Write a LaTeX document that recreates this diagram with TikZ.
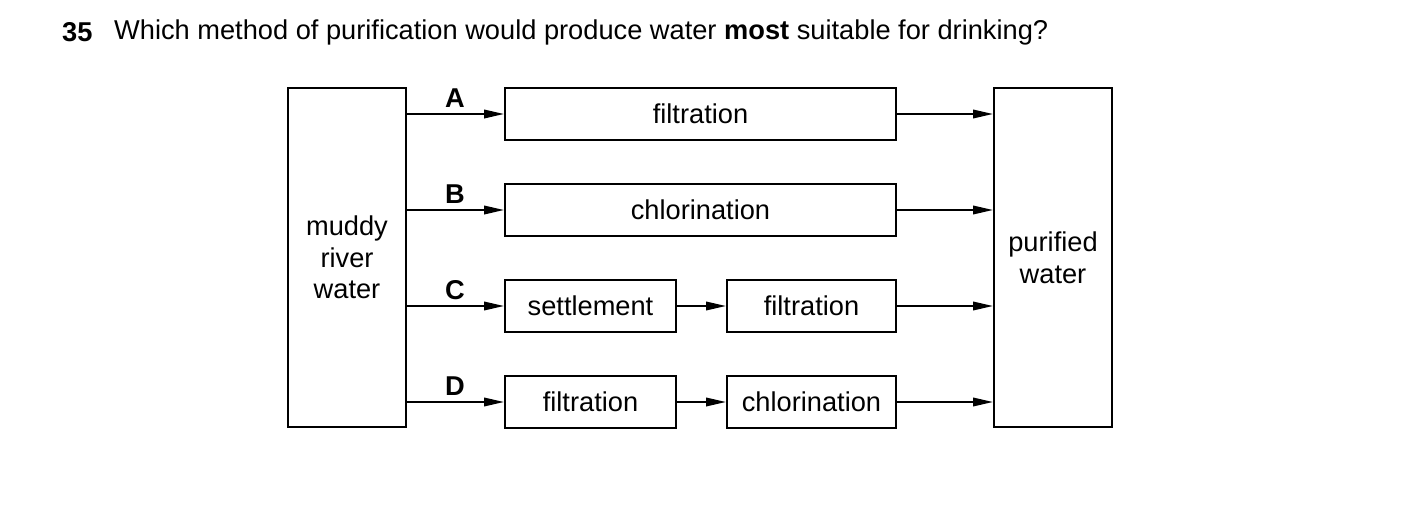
\documentclass[tikz,border=0pt]{standalone}
\usepackage{fontspec}
\setmainfont{Liberation Sans}
\usetikzlibrary{arrows.meta}
\begin{document}
\begin{tikzpicture}[x=0.02cm,y=-0.02cm,
  every node/.style={font=\fontsize{15.5}{19}\selectfont},
  box/.style={draw,line width=1.1pt,minimum height=1.04cm,inner sep=0pt},
  arr/.style={line width=1.1pt,-{Triangle[length=0.4cm,width=0.17cm]}},
  lab/.style={font=\fontsize{15.5}{19}\selectfont\bfseries}]
\useasboundingbox (0,0) rectangle (1403,521);
\node[anchor=west] (num) at (56,32) {\textbf{35}};
\node[anchor=west] (q) at (108,32) {Which method of purification would produce water \textbf{most} suitable for drinking?};
\node[box,minimum width=2.36cm,minimum height=6.78cm,align=center] (L) at (347,257.5) {muddy\\[-1pt]river\\[-1pt]water};
\node[box,minimum width=2.36cm,minimum height=6.78cm,align=center] (R) at (1053,257.5) {purified\\[-1pt]water};
\node[box,minimum width=7.82cm] (a) at (700.5,114) {filtration};
\node[box,minimum width=7.82cm] (b) at (700.5,210) {chlorination};
\node[box,minimum width=3.42cm] (c1) at (590.5,306) {settlement};
\node[box,minimum width=3.38cm] (c2) at (811.5,306) {filtration};
\node[box,minimum width=3.42cm] (d1) at (590.5,402) {filtration};
\node[box,minimum width=3.38cm] (d2) at (811.5,402) {chlorination};
\node[lab] (A) at (455,98) {A};
\node[lab] (B) at (455,194) {B};
\node[lab] (C) at (455,290) {C};
\node[lab] (D) at (455,386) {D};
\draw[arr] (L.east |- a.west) -- (a.west);
\draw[arr] (L.east |- b.west) -- (b.west);
\draw[arr] (L.east |- c1.west) -- (c1.west);
\draw[arr] (L.east |- d1.west) -- (d1.west);
\draw[arr] (a.east) -- (R.west |- a.east);
\draw[arr] (b.east) -- (R.west |- b.east);
\draw[arr] (c2.east) -- (R.west |- c2.east);
\draw[arr] (d2.east) -- (R.west |- d2.east);
\draw[arr] (c1.east) -- (c2.west);
\draw[arr] (d1.east) -- (d2.west);
\end{tikzpicture}
\end{document}
